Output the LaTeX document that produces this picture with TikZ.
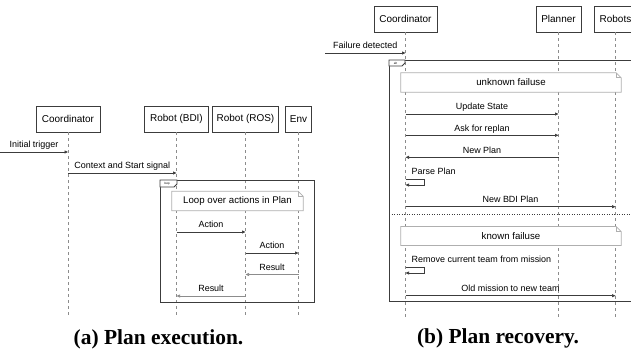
\documentclass[tikz,border=0pt]{standalone}
\usepackage{fontspec}
\setmainfont{Liberation Sans}
\newfontfamily\capfont{Liberation Serif}
\usetikzlibrary{positioning,arrows.meta,calc}
\definecolor{seqDark}{RGB}{60,60,60}
\definecolor{seqGray}{RGB}{140,140,140}
\definecolor{seqLight}{RGB}{175,175,175}

\begin{document}
\begin{tikzpicture}[x=1bp,y=-1bp,
  actor/.style={draw=seqDark,fill=white,minimum height=26bp,inner sep=0pt,font=\fontsize{10}{12}\selectfont},
  life/.style={draw=seqGray,dash pattern=on 3bp off 3bp,line width=0.6bp},
  msg/.style={draw=seqDark,line width=0.7bp,-{Triangle[length=3.5bp,width=3bp]}},
  ret/.style={msg,draw=seqGray},
  lbl/.style={font=\fontsize{9}{11}\selectfont,inner sep=0pt,anchor=base,yshift=4.3bp},
  note/.style={fill=white,inner sep=0pt,minimum height=19bp,font=\fontsize{9.7}{11}\selectfont},
  notebd/.style={draw=seqLight,line width=0.8bp},
  frm/.style={draw=seqDark,line width=0.9bp},
  tag/.style={font=\fontsize{3}{3}\selectfont,inner sep=0pt},
  caption/.style={font=\capfont\bfseries\fontsize{21.5}{24}\selectfont,anchor=base,inner sep=0pt}]
\path[use as bounding box] (0,0) rectangle (631,360);
\clip (0,0) rectangle (631,360);
% (a) plan execution
\node[actor,minimum width=64bp] (coordA) at (68,119) {Coordinator};
\node[actor,minimum width=64bp] (bdi) at (176.5,119) {Robot (BDI)};
\node[actor,minimum width=66bp] (ros) at (245.5,119) {Robot (ROS)};
\node[actor,minimum width=26bp] (env) at (298.5,119) {Env};
\foreach \n in {coordA,bdi,ros,env}
  \draw[life] (\n.south) -- (\n |- 0,318);
\coordinate (trigA) at (0,152);
\draw[msg] (trigA) -- (coordA |- trigA) node[lbl,midway] {Initial trigger};
\draw[msg] (coordA |- 0,173) -- (bdi |- 0,173) node[lbl,midway] {Context and Start signal};
\draw[frm] (160,180) rectangle (314,302);
\draw[frm,fill=white] (160,180) -- (177,180) -- (177,184) -- (174,187) -- (160,187) -- cycle;
\node[tag] (loopTag) at (167,183.5) {loop};
\node[note,minimum width=131bp] (loopNote) at (237.5,201) {Loop over actions in Plan};
\draw[msg] (bdi |- 0,232) -- (ros |- 0,232) node[lbl,midway] {Action};
\draw[msg] (ros |- 0,253) -- (env |- 0,253) node[lbl,midway] {Action};
\draw[ret] (env |- 0,274.5) -- (ros |- 0,274.5) node[lbl,midway] {Result};
\draw[ret] (ros |- 0,296) -- (bdi |- 0,296) node[lbl,midway] {Result};
\node[caption] (capA) at (158.5,344) {(a) Plan execution.};
% (b) plan recovery
\node[actor,minimum width=63bp] (coordB) at (405.5,19) {Coordinator};
\node[actor,minimum width=45bp] (planner) at (558.5,19) {Planner};
\node[actor,minimum width=43bp] (robots) at (615.5,19) {Robots};
\foreach \n in {coordB,planner,robots}
  \draw[life] (\n.south) -- (\n |- 0,318);
\coordinate (failB) at (325,53);
\draw[msg] (failB) -- (coordB |- failB) node[lbl,midway] {Failure detected};
\draw[frm] (640,60) -- (389,60) -- (389,301) -- (640,301);
\draw[frm,fill=white] (389,60) -- (405,60) -- (405,63) -- (402,66) -- (389,66) -- cycle;
\node[tag] (altTag) at (395.5,63) {alt};
\node[note,minimum width=220bp] (unkNote) at (511,82.5) {unknown failuse};
\draw[msg] (coordB |- 0,114) -- (planner |- 0,114) node[lbl,midway] {Update State};
\draw[msg] (coordB |- 0,135.3) -- (planner |- 0,135.3) node[lbl,midway] {Ask for replan};
\draw[msg] (planner |- 0,157.3) -- (coordB |- 0,157.3) node[lbl,midway] {New Plan};
\node[lbl,anchor=base west] (parseLbl) at ([xshift=6bp]coordB |- 0,179) {Parse Plan};
\draw[msg] (coordB |- 0,179) -- ++(19,0) -- ++(0,6) -- (coordB |- 0,185);
\draw[msg] (coordB |- 0,206.7) -- (robots |- 0,206.7) node[lbl,midway] {New BDI Plan};
\draw[seqDark,dash pattern=on 1bp off 1.5bp,line width=0.8bp] (389,214) -- (640,214);
\node[note,minimum width=220bp,minimum height=18.5bp] (knownNote) at (511,236) {known failuse};
\node[lbl,anchor=base west] (removeLbl) at ([xshift=6bp]coordB |- 0,267) {Remove current team from mission};
\draw[msg] (coordB |- 0,267) -- ++(19,0) -- ++(0,6) -- (coordB |- 0,273);
\draw[msg] (coordB |- 0,295.7) -- (robots |- 0,295.7) node[lbl,midway] {Old mission to new team};
\node[caption] (capB) at (498,343) {(b) Plan recovery.};
% note outlines
\foreach \n in {loopNote,unkNote,knownNote}{
  \draw[notebd] (\n.north west) -- ([xshift=-5bp]\n.north east) -- ([yshift=-5bp]\n.north east)
    -- (\n.south east) -- (\n.south west) -- cycle;
  \draw[notebd] ([xshift=-5bp]\n.north east) |- ([yshift=-5bp]\n.north east);
}
\end{tikzpicture}
\end{document}
